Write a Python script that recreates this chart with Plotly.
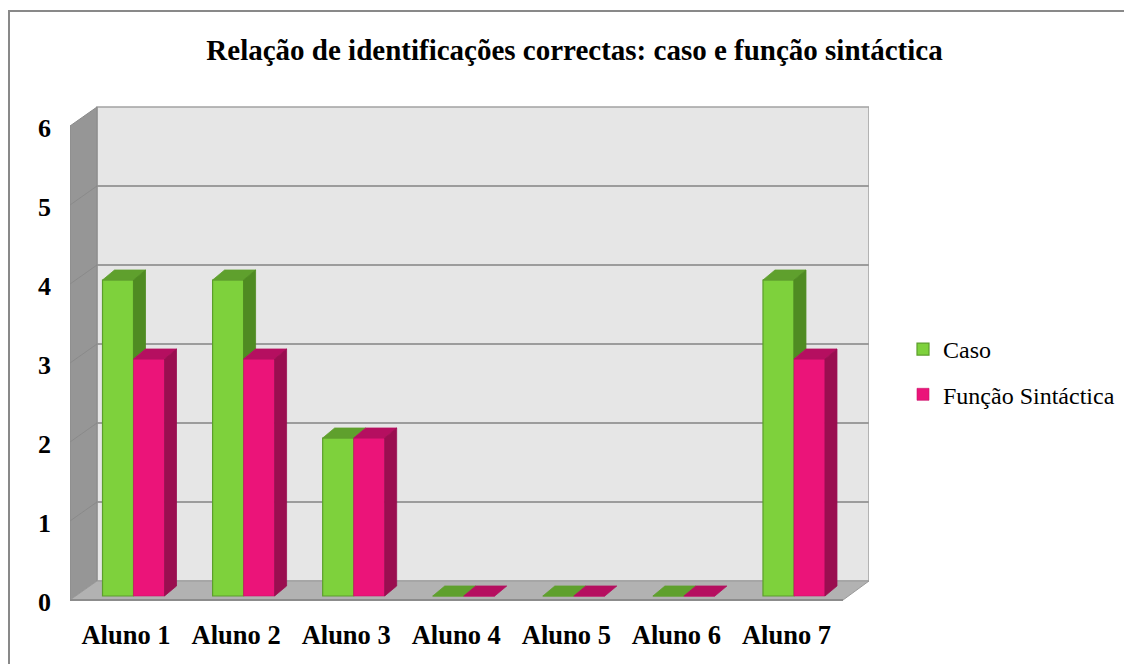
import plotly.graph_objects as go

# ---------------- data ----------------
categories = ["Aluno 1", "Aluno 2", "Aluno 3", "Aluno 4", "Aluno 5", "Aluno 6", "Aluno 7"]
caso = [4, 4, 2, 0, 0, 0, 4]
funcao = [3, 3, 2, 0, 0, 0, 3]
series_names = ["Caso", "Função Sintáctica"]
y_ticks = [0, 1, 2, 3, 4, 5, 6]
title_text = "Relação de identificações correctas: caso e função sintáctica"

# ---------------- style / geometry ----------------
FONT = "Liberation Serif, Times New Roman, serif"
W = 0.2816            # bar width (category units)
BDX, BDY = 0.109, 0.1266      # bar depth offset
WDX, WDY = 0.191, 0.19        # back wall offset from bar front plane
FDY = -0.0506                 # floor front (below bar base)
XR = [-0.5769, 6.6815]
YR = [-0.1266, 6.2025]
SIDE_BACK_X = -0.3316
FLOOR_FRONT_RIGHT = 6.4453

G_FRONT, G_TOP, G_SIDE, G_LINE = "#7ed13c", "#5fa02d", "#4f8b22", "#5c9e2c"
P_FRONT, P_TOP, P_SIDE = "#eb1479", "#b50f60", "#9a0e50"

# page offset (browser body margin) and plot-area pixels in reference coordinates
OFF = 8
PL, PR, PT, PB = 70, 869, 106, 606
FIG_W, FIG_H = 1132 - OFF, 664 - OFF


def px_x(px):
    return (px - PL) / (PR - PL)


def px_y(py):
    return (PB - py) / (PB - PT)


xpos = list(range(len(categories)))

fig = go.Figure()

# front faces (bars)
fig.add_trace(go.Bar(x=xpos, y=caso, width=W, offset=-W, name=series_names[0],
                     marker=dict(color=G_FRONT, line=dict(color=G_LINE, width=1.2)),
                     legendgroup="a"))
fig.add_trace(go.Bar(x=xpos, y=funcao, width=W, offset=0, name=series_names[1],
                     marker=dict(color=P_FRONT, line=dict(color="#c8106a", width=0.6)),
                     legendgroup="b"))


def poly_trace(polys, color, line_color):
    xs, ys = [], []
    for p in polys:
        for (a, b) in p:
            xs.append(a)
            ys.append(b)
        xs.append(p[0][0]); ys.append(p[0][1])
        xs.append(None); ys.append(None)
    return go.Scatter(x=xs, y=ys, mode="lines", fill="toself", fillcolor=color,
                      line=dict(color=line_color, width=0.8), showlegend=False,
                      hoverinfo="skip")


g_top, g_side, p_top, p_side = [], [], [], []
for i, (vg, vp) in enumerate(zip(caso, funcao)):
    gl, gr = i - W, i
    pl, pr = i, i + W
    g_top.append([(gl, vg), (gl + BDX, vg + BDY), (gr + BDX, vg + BDY), (gr, vg)])
    if vg > vp:
        g_side.append([(gr, vp), (gr + BDX, vp + BDY), (gr + BDX, vg + BDY), (gr, vg)])
    p_top.append([(pl, vp), (pl + BDX, vp + BDY), (pr + BDX, vp + BDY), (pr, vp)])
    if vp > 0:
        p_side.append([(pr, 0), (pr + BDX, BDY), (pr + BDX, vp + BDY), (pr, vp)])

fig.add_trace(poly_trace(g_top, G_TOP, G_TOP))
if g_side:
    fig.add_trace(poly_trace(g_side, G_SIDE, G_SIDE))
fig.add_trace(poly_trace(p_top, P_TOP, P_TOP))
fig.add_trace(poly_trace(p_side, P_SIDE, P_SIDE))

# ---------------- walls (decoration) ----------------
shapes = []
# back wall
shapes.append(dict(type="rect", xref="x", yref="y", x0=SIDE_BACK_X, x1=XR[1],
                   y0=WDY, y1=y_ticks[-1] + WDY, fillcolor="#e6e6e6",
                   line=dict(color="#a3a3a3", width=1.5), layer="below"))
for k in y_ticks[1:-1]:
    shapes.append(dict(type="line", xref="x", yref="y", x0=SIDE_BACK_X, x1=XR[1],
                       y0=k + WDY, y1=k + WDY, line=dict(color="#9c9c9c", width=2),
                       layer="below"))
# side wall
shapes.append(dict(type="path", xref="x", yref="y",
                   path=f"M{XR[0]},{FDY} L{XR[0]},{y_ticks[-1] + FDY} L{SIDE_BACK_X},{y_ticks[-1] + WDY} L{SIDE_BACK_X},{WDY} Z",
                   fillcolor="#969696", line=dict(color="#8a8a8a", width=1), layer="below"))
for k in y_ticks[1:-1]:
    shapes.append(dict(type="line", xref="x", yref="y", x0=XR[0], x1=SIDE_BACK_X,
                       y0=k + FDY, y1=k + WDY, line=dict(color="#8a8a8a", width=1),
                       layer="below"))
# floor
shapes.append(dict(type="path", xref="x", yref="y",
                   path=f"M{XR[0]},{FDY} L{SIDE_BACK_X},{WDY} L{XR[1]},{WDY} L{FLOOR_FRONT_RIGHT},{FDY} Z",
                   fillcolor="#b2b2b2", line=dict(color="#9a9a9a", width=1), layer="below"))
shapes.append(dict(type="line", xref="x", yref="y", x0=XR[0], x1=FLOOR_FRONT_RIGHT,
                   y0=FDY, y1=FDY, line=dict(color="#8c8c8c", width=2), layer="below"))
# chart border
shapes.append(dict(type="rect", xref="paper", yref="paper",
                   x0=px_x(OFF + 1), x1=px_x(1130),
                   y0=px_y(690), y1=px_y(11),
                   line=dict(color="#898989", width=2), fillcolor="rgba(0,0,0,0)"))

fig.update_layout(
    width=FIG_W, height=FIG_H,
    margin=dict(l=PL - OFF, r=FIG_W - (PR - OFF), t=PT - OFF, b=FIG_H - (PB - OFF)),
    paper_bgcolor="white", plot_bgcolor="white",
    barmode="overlay",
    shapes=shapes,
    title=dict(text=f"<b>{title_text}</b>", x=(574.5 - OFF) / FIG_W, xanchor="center",
               y=1 - (50 - OFF) / FIG_H, yanchor="middle", yref="container",
               font=dict(family=FONT, size=29, color="black")),
    xaxis=dict(range=XR, tickvals=[i - 0.068 for i in xpos], ticktext=[f"<b>{c}</b>" for c in categories],
               showgrid=False, zeroline=False, showline=False, ticks="",
               ticklabelstandoff=10,
               tickfont=dict(family=FONT, size=26.5, color="black")),
    yaxis=dict(range=YR, tickvals=[k - 0.08 for k in y_ticks], ticktext=[f"<b>{k}</b>" for k in y_ticks],
               showgrid=False, zeroline=False, showline=False, ticks="",
               ticklabelstandoff=18,
               tickfont=dict(family=FONT, size=26, color="black")),
    legend=dict(x=px_x(903), xanchor="left", y=px_y(327), yanchor="top",
                font=dict(family=FONT, size=24, color="black"),
                tracegroupgap=11, bgcolor="rgba(0,0,0,0)"),
    showlegend=True,
)

fig.write_html("out.html")
